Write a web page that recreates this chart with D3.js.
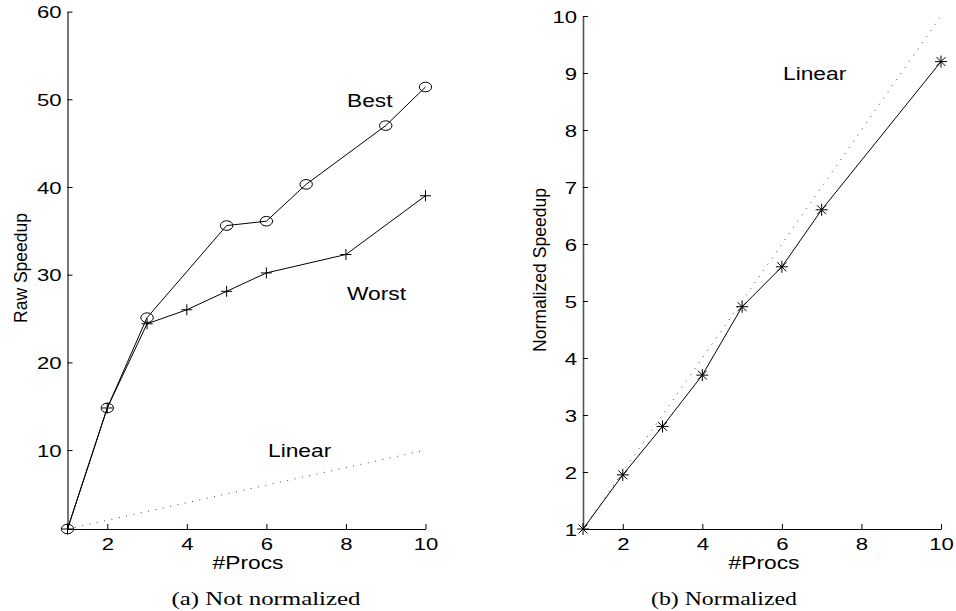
<!DOCTYPE html>
<html><head><meta charset="utf-8">
<script src="https://cdn.jsdelivr.net/npm/d3@7"></script>
<style>body{margin:0;background:#fff}svg{display:block}</style>
</head><body>
<svg id="c" width="956" height="611"></svg>
<script>
// ---- data ----
const procsBest  = [1, 2, 3, 5, 6, 7, 9, 10];
const speedBest  = [1, 14.8, 25.1, 35.6, 36.1, 40.3, 47.0, 51.4];
const procsWorst = [1, 2, 3, 4, 5, 6, 8, 10];
const speedWorst = [1, 14.8, 24.4, 26.0, 28.1, 30.2, 32.3, 39.0];
const linearX = [1, 10];
const linearY = [1, 10];
const procsNorm = [1, 2, 3, 4, 5, 6, 7, 10];
const speedNorm = [1, 1.95, 2.8, 3.7, 4.9, 5.6, 6.6, 9.2];
const xTicks = [2, 4, 6, 8, 10];
const yTicksRaw = [10, 20, 30, 40, 50, 60];
const yTicksNorm = [1, 2, 3, 4, 5, 6, 7, 8, 9, 10];

const svg = d3.select("#c");
const SANS = "'Liberation Sans', Arial, Helvetica, sans-serif";
const SERIF = "'Liberation Serif', 'DejaVu Serif', serif";
const HS = 1.3; // horizontal stretch of the original figure

function stretch(sel, f) {
  sel.each(function () {
    const w = this.getComputedTextLength();
    this.setAttribute("textLength", w * f);
    this.setAttribute("lengthAdjust", "spacingAndGlyphs");
  });
}
function fixLen(sel, L) {
  sel.attr("textLength", L).attr("lengthAdjust", "spacingAndGlyphs");
}

function zip(xs, ys) { return xs.map((x, i) => [x, ys[i]]); }

function panel(cfg) {
  const g = svg.append("g");
  const x = d3.scaleLinear([1, 10], cfg.xr);
  const y = d3.scaleLinear(cfg.yd, cfg.yr);
  const x0 = cfg.xr[0], y0 = cfg.yr[0];

  // x axis
  const gx = g.append("g").attr("transform", `translate(0,${y0})`)
    .call(d3.axisBottom(x).tickValues(xTicks).tickSizeInner(-5).tickSizeOuter(0).tickFormat(d3.format("d")));
  gx.select(".domain").attr("stroke", "#000").attr("stroke-width", 1);
  gx.selectAll(".tick line").attr("stroke", "#000");
  gx.selectAll(".tick text").attr("y", 0).attr("dy", 21)
    .attr("font-family", SANS).attr("font-size", 17).attr("fill", "#000");
  stretch(gx.selectAll(".tick text"), HS);

  // y axis
  const gy = g.append("g").attr("transform", `translate(${x0},0)`)
    .call(d3.axisLeft(y).tickValues(cfg.yt).tickSizeInner(-5).tickSizeOuter(0).tickFormat(d3.format("d")));
  gy.select(".domain").attr("stroke", "#555").attr("stroke-width", 1.6);
  gy.selectAll(".tick line").attr("stroke", "#000");
  gy.selectAll(".tick text").attr("x", -6).attr("dy", "0.36em")
    .attr("font-family", SANS).attr("font-size", 17).attr("fill", "#000");
  stretch(gy.selectAll(".tick text"), HS);

  // axis titles
  const xt = g.append("text").attr("x", cfg.xtx).attr("y", 569).attr("text-anchor", "middle")
    .attr("font-family", SANS).attr("font-size", 17.5).text("#Procs");
  stretch(xt, HS);
  const yt = g.append("text").attr("transform", `translate(${cfg.ytx},${cfg.yty}) rotate(-90)`)
    .attr("text-anchor", "middle").attr("font-family", SANS).attr("font-size", 19).text(cfg.ytitle);
  fixLen(yt, cfg.ytlen);

  // caption
  const cap = g.append("text").attr("x", cfg.capx).attr("y", 605).attr("text-anchor", "middle")
    .attr("font-family", SERIF).attr("font-size", 19).text(cfg.caption);
  fixLen(cap, cfg.caplen);

  // linear dotted
  const line = d3.line().x(d => x(d[0])).y(d => y(d[1]));
  g.append("path").datum(zip(linearX, linearY)).attr("d", line)
    .attr("fill", "none").attr("stroke", "#444").attr("stroke-width", 1)
    .attr("stroke-dasharray", "1 6.5");

  return { g, x, y, line };
}

// ---- left panel ----
const L = panel({
  xr: [67.5, 425.5], yd: [1, 60], yr: [529, 11.6], yt: yTicksRaw,
  xtx: 248, ytx: 27, yty: 268, ytitle: "Raw Speedup", ytlen: 110,
  capx: 266, caption: "(a) Not normalized", caplen: 189
});
[[procsBest, speedBest], [procsWorst, speedWorst]].forEach(([px, py]) => {
  L.g.append("path").datum(zip(px, py)).attr("d", L.line)
    .attr("fill", "none").attr("stroke", "#000").attr("stroke-width", 1);
});
L.g.selectAll(".best").data(zip(procsBest, speedBest)).join("ellipse")
  .attr("cx", d => L.x(d[0])).attr("cy", d => L.y(d[1])).attr("rx", 6.2).attr("ry", 4.8)
  .attr("fill", "none").attr("stroke", "#000").attr("stroke-width", 1);
L.g.selectAll(".worst").data(zip(procsWorst, speedWorst)).join("path")
  .attr("d", d => { const cx = L.x(d[0]), cy = L.y(d[1]);
    return `M${cx - 5.5},${cy}H${cx + 5.5}M${cx},${cy - 5.5}V${cy + 5.5}`; })
  .attr("stroke", "#000").attr("stroke-width", 1);

const lab = (g, txt, x, y) => { const t = g.append("text").attr("x", x).attr("y", y)
  .attr("font-family", SANS).attr("font-size", 17.5).text(txt); stretch(t, HS); };
lab(L.g, "Best", 347, 107);
lab(L.g, "Worst", 347, 300);
lab(L.g, "Linear", 268, 457);

// ---- right panel ----
const R = panel({
  xr: [583, 941], yd: [1, 10], yr: [529, 16], yt: yTicksNorm,
  xtx: 764, ytx: 546, yty: 270, ytitle: "Normalized Speedup", ytlen: 164,
  capx: 724, caption: "(b) Normalized", caplen: 146
});
R.g.append("path").datum(zip(procsNorm, speedNorm)).attr("d", R.line)
  .attr("fill", "none").attr("stroke", "#000").attr("stroke-width", 1);
R.g.selectAll(".norm").data(zip(procsNorm, speedNorm)).join("path")
  .attr("d", d => { const cx = R.x(d[0]), cy = R.y(d[1]), a = 6, b = 4.5;
    return `M${cx - a},${cy}H${cx + a}M${cx},${cy - a}V${cy + a}` +
      `M${cx - b},${cy - b}L${cx + b},${cy + b}M${cx - b},${cy + b}L${cx + b},${cy - b}`; })
  .attr("stroke", "#000").attr("stroke-width", 1);
lab(R.g, "Linear", 783, 80);
</script>
</body></html>
